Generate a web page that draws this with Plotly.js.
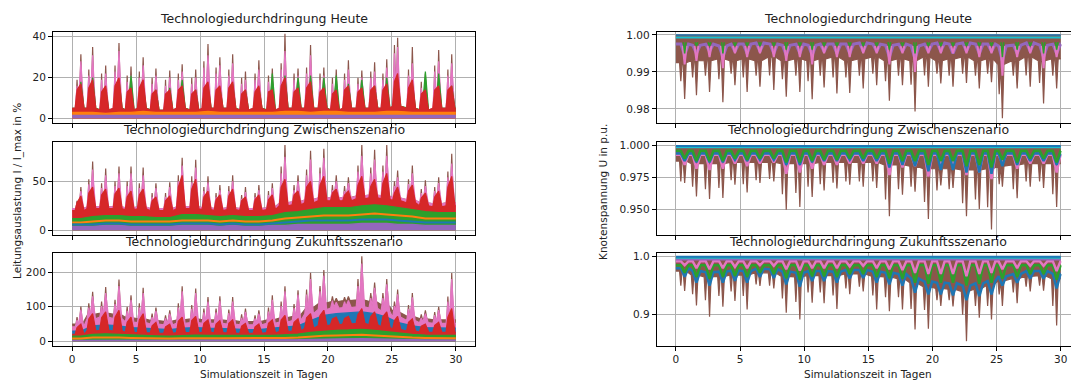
<!DOCTYPE html>
<html><head><meta charset="utf-8">
<script src="https://cdn.plot.ly/plotly-3.0.1.min.js"></script>
<style>html,body{margin:0;padding:0;overflow:hidden;background:#fff}#chart{width:1085px;height:383px}</style>
</head><body><div id="chart"></div><script>
// ---- time of the daily main extreme and of the secondary extreme (days) ----
const spikeDay  = [0.68,1.6,2.62,3.66,4.6,5.55,6.55,7.63,8.6,9.66,10.62,11.55,12.55,13.55,14.6,15.65,16.64,17.66,18.64,19.68,20.65,21.6,22.65,23.65,24.6,25.45,26.6,27.62,28.66,29.68];
const spike2Day = [0.38,1.3,2.3,3.35,4.3,5.25,6.25,7.3,8.3,9.35,10.3,11.25,12.25,13.25,14.3,15.35,16.34,17.35,18.33,19.38,20.35,21.3,22.35,23.35,24.3,25.2,26.3,27.3,28.35,29.38];

// ---- Leitungsauslastung, Heute (%) ----
const aBrown  = [31.5,35,26,37,25.5,30,24.5,23.5,26.5,24,36.5,30,31.5,23,28.5,24.5,41.5,24.5,36,25,24,28.5,23.5,27.5,29,39.5,35,22,33.5,31.5];
const aBrown2 = [19,24,22,26,21,23,20,19,22,20,28,25,24,20,22,21,27,22,25,22,20,22,20,23,22,36,24,18,26,24];
const aPink   = [28,31,22,33,21,26,21,20,23,20,31,26,27,19,24,20,33,21,31,21,20,24,20,23,25,35,27,18,28,27];
const aPink2  = [16,21,19,23,18,20,17,16,19,17,25,22,21,17,19,18,24,19,22,19,17,19,17,20,19,32,21,15,23,21];
const aGreen  = [18,20,14,19,21,16,14,15,19,14,16,15,17,14,15,22,21,20,21,20,21,17,19,16,20,18,17,23,22,16];
const aRed    = [17,19,16,20,15,19,14,14,16,14,18,16,18,14,16,14,20,15,18,15,14,16,15,16,17,22,19,14,16,16];
const aRed2   = [14,15,13,16,13,15,12,12,14,12,15,14,15,12,13,13,16,13,15,13,12,14,13,14,14,18,15,12,14,14];
const aBase   = [5,5,4,5,4,5,4,4,5,4,5,5,5,4,5,4,5,5,5,5,4,5,5,5,5,6,5,4,5,5];
const aOrange = [3,3,2.5,3,3,3.5,3,3,3,3,3.5,3,3,3,3,3,3.5,3.5,3,3.5,3.5,3,3,3,3.5,3.5,3,3,3,3];
const aPurple = [1.5,1.5,1.4,1.6,1.5,1.5,1.4,1.5,1.5,1.4,1.6,1.5,1.5,1.4,1.5,1.5,1.6,1.6,1.5,1.6,1.5,1.5,1.5,1.5,1.6,1.6,1.5,1.4,1.5,1.5];

// ---- Leitungsauslastung, Zwischenszenario (%) ----
const bBrown  = [44,70,63,65,65,64,48,49,74,72,55,46,56,44,46,48,87,56,81,83,56,54,87,82,87,61,66,51,54,78];
const bBrown2 = [30,52,48,50,50,48,38,38,56,55,44,38,45,36,38,40,65,46,62,64,46,45,66,64,66,50,52,42,44,60];
const bPink   = [40,62,56,58,58,56,43,44,66,64,49,41,50,39,41,43,75,50,72,74,50,48,76,72,76,54,58,45,48,68];
const bPink2  = [27,47,43,45,45,43,34,34,50,49,40,34,40,32,34,36,58,41,56,58,41,40,60,58,60,45,47,38,40,54];
const bTopBase= [22,24,24,24,23,24,22,22,24,24,23,22,23,22,22,23,28,29,31,33,33,33,35,36,35,33,31,28,27,28];
const bRed    = [35,44,42,43,40,42,34,35,56,52,40,36,42,34,36,36,52,40,50,55,42,40,55,52,58,44,46,38,40,55];
const bRed2   = [28,38,36,37,34,36,30,30,44,42,34,31,35,30,31,31,44,36,44,46,38,36,46,45,48,38,40,33,34,44];
const bRedBase= [20,22,22,22,21,22,20,20,22,22,21,20,21,20,20,21,25,26,28,30,30,30,32,33,32,30,28,25,24,25];
const bGreen  = [12,14,15,15,14,14,13,13,16,16,15,14,15,14,14,15,18,19,21,23,23,23,25,26,25,23,21,19,18,18];
const bOrange = [8,9,10,10,9,9,9,9,10,10,10,9,10,9,9,10,12,13,14,15,15,15,16,17,16,15,14,12,12,12];
const bBlue   = [6,6,7,7,6,6,6,6,7,7,7,6,7,6,6,7,8,9,10,10,10,10,11,11,11,10,9,8,8,8];
const bPurple = [4,4,5,5,4,4,4,4,5,5,5,4,5,4,4,5,5,6,6,6,6,6,7,7,7,6,6,5,5,5];

// ---- Leitungsauslastung, Zukunftsszenario (%) ----
const cBrown  = [101,143,157,179,133,155,98,90,159,153,128,130,128,95,90,133,159,148,198,206,125,130,246,170,180,150,140,90,100,198];
const cBrown2 = [70,110,115,120,100,110,80,75,110,105,95,95,92,78,75,98,115,108,150,160,130,128,180,140,140,115,105,78,85,130];
const cBrownBase = [50,78,82,78,68,65,60,58,62,65,62,62,60,57,57,62,68,72,95,110,115,118,120,115,105,85,72,65,62,62];
const cPink   = [92,130,140,160,120,140,88,80,145,140,115,118,115,85,80,120,145,135,180,190,113,118,225,155,165,136,127,80,90,180];
const cPink2  = [62,98,102,108,88,98,70,66,98,94,84,84,82,68,66,86,102,96,135,145,118,115,160,125,125,102,94,68,76,115];
const cPinkBase = [42,65,70,66,56,54,50,48,52,54,52,52,50,48,48,52,56,60,80,92,96,98,100,96,88,70,60,54,52,52];
const cBlue   = [30,45,48,45,40,38,36,34,38,40,38,38,36,34,34,38,42,45,60,75,80,82,85,80,70,55,45,40,38,38];
const cRed    = [50,80,85,90,70,80,55,50,70,72,62,60,62,52,50,62,75,65,80,90,70,72,95,85,85,72,65,50,55,95];
const cRed2   = [40,65,68,70,55,62,45,42,58,60,52,50,52,44,42,52,62,55,68,75,65,66,78,72,72,60,55,44,46,70];
const cRedBase= [20,30,32,30,26,25,24,23,25,26,25,25,24,23,23,25,28,30,38,45,48,50,52,48,42,34,30,27,26,26];
const cGreen  = [15,20,22,20,18,17,16,15,17,18,17,17,16,15,15,17,19,21,26,30,32,33,35,32,28,23,20,18,17,17];
const cOrange = [8,11,12,11,10,9,9,8,9,10,9,9,9,8,8,9,10,11,14,16,17,18,19,17,15,12,11,10,9,9];
const cPurple = [3,5,5,5,4,4,4,4,4,4,4,4,4,4,4,4,5,5,6,7,7,7,8,7,6,5,5,4,4,4];

// ---- Knotenspannung, Heute (p.u.) ----
const nominalU = 1.0;
const dBrown  = [0.9827,0.9837,0.9846,0.9818,0.9864,0.9846,0.9860,0.9851,0.9833,0.9846,0.9826,0.9858,0.9842,0.9843,0.9855,0.9864,0.9822,0.9864,0.9793,0.9860,0.9869,0.9860,0.9870,0.9855,0.9872,0.9775,0.9855,0.9860,0.9815,0.9855];
const dBrown2 = [0.9875,0.9885,0.989,0.988,0.9895,0.9885,0.989,0.989,0.988,0.989,0.9875,0.989,0.9885,0.9885,0.989,0.9895,0.9875,0.989,0.9865,0.989,0.9895,0.989,0.9895,0.989,0.9895,0.984,0.989,0.989,0.987,0.989];
const dBrownBase = [0.9925,0.993,0.993,0.9935,0.993,0.9935,0.993,0.994,0.993,0.9935,0.993,0.9935,0.994,0.993,0.9935,0.994,0.993,0.9935,0.993,0.994,0.993,0.9935,0.994,0.993,0.9935,0.992,0.993,0.994,0.993,0.9935];
const dPurple = [0.9945,0.995,0.9955,0.994,0.9955,0.995,0.9955,0.995,0.9945,0.995,0.9945,0.9955,0.995,0.995,0.9955,0.9955,0.994,0.9955,0.9935,0.9955,0.9955,0.995,0.9955,0.995,0.9955,0.993,0.995,0.9955,0.994,0.995];
const dPurpleBase = [0.9975,0.9972,0.9975,0.997,0.9975,0.9975,0.9978,0.9975,0.9972,0.9975,0.9972,0.9975,0.9975,0.9975,0.9978,0.9975,0.9972,0.9975,0.997,0.9975,0.9978,0.9975,0.9978,0.9975,0.9975,0.997,0.9972,0.9978,0.9972,0.9975];
const dPink   = [0.992,0.993,0.994,0.991,0.995,0.994,0.995,0.994,0.993,0.994,0.992,0.995,0.994,0.994,0.995,0.995,0.992,0.995,0.990,0.995,0.995,0.995,0.995,0.994,0.995,0.989,0.994,0.995,0.991,0.994];
const dPinkLevel = 0.997;
const dGreen  = [0.995,0.997,0.997,0.995,0.997,0.997,0.997,0.997,0.996,0.997,0.996,0.997,0.997,0.997,0.997,0.997,0.996,0.997,0.995,0.997,0.997,0.997,0.997,0.997,0.997,0.994,0.996,0.997,0.995,0.996];
const dGreenLevel = 0.998;
const dCyanLevel = 0.9993;
const dBlueLevel = 0.99995;

// ---- Knotenspannung, Zwischenszenario (p.u.) ----
const eBrown  = [0.9708,0.9604,0.9584,0.9591,0.9695,0.9635,0.9708,0.972,0.950,0.9522,0.960,0.965,0.9665,0.9695,0.968,0.967,0.9449,0.9617,0.964,0.9428,0.969,0.967,0.9449,0.9506,0.9345,0.968,0.959,0.968,0.967,0.9522];
const eBrown2 = [0.972,0.968,0.966,0.967,0.973,0.97,0.973,0.974,0.962,0.963,0.968,0.97,0.971,0.972,0.972,0.972,0.958,0.966,0.968,0.956,0.965,0.966,0.955,0.958,0.952,0.97,0.966,0.972,0.972,0.962];
const eBrownBase = [0.988,0.986,0.986,0.986,0.987,0.987,0.987,0.987,0.986,0.986,0.986,0.987,0.987,0.987,0.987,0.987,0.985,0.985,0.984,0.982,0.982,0.982,0.981,0.981,0.982,0.984,0.985,0.986,0.986,0.986];
const ePink   = [0.985,0.982,0.981,0.982,0.986,0.984,0.986,0.987,0.978,0.979,0.982,0.985,0.985,0.986,0.986,0.986,0.977,0.983,0.984,0.976,0.985,0.985,0.977,0.979,0.974,0.986,0.982,0.986,0.986,0.979];
const ePinkLevel = 0.993;
const eBlue   = [0.988,0.987,0.987,0.987,0.989,0.988,0.989,0.989,0.985,0.985,0.987,0.988,0.988,0.989,0.988,0.988,0.983,0.985,0.984,0.980,0.981,0.981,0.979,0.979,0.978,0.984,0.985,0.988,0.988,0.985];
const eBlueLevel = 0.994;
const eGreen  = [0.99,0.988,0.988,0.988,0.99,0.989,0.99,0.99,0.987,0.987,0.988,0.989,0.989,0.99,0.99,0.99,0.986,0.988,0.988,0.985,0.988,0.988,0.984,0.985,0.983,0.989,0.987,0.99,0.99,0.987];
const eGreenLevel = 0.996;
const eCyanLevel = 0.9988;
const eTopLevel = 0.9998;

// ---- Knotenspannung, Zukunftsszenario (p.u.) ----
const fBrown  = [0.9407,0.916,0.8965,0.9138,0.9235,0.909,0.9493,0.945,0.9034,0.8919,0.9207,0.9195,0.910,0.935,0.940,0.909,0.906,0.909,0.8747,0.8757,0.915,0.914,0.8545,0.8948,0.8919,0.915,0.9195,0.940,0.9413,0.8815];
const fBrown2 = [0.95,0.935,0.925,0.932,0.94,0.932,0.952,0.95,0.928,0.922,0.938,0.938,0.933,0.945,0.948,0.933,0.93,0.93,0.91,0.908,0.925,0.925,0.9,0.915,0.915,0.935,0.938,0.948,0.95,0.915];
const fBrownBase = [0.975,0.968,0.965,0.966,0.968,0.968,0.972,0.972,0.966,0.965,0.967,0.967,0.967,0.97,0.97,0.966,0.965,0.962,0.955,0.948,0.945,0.944,0.94,0.944,0.95,0.958,0.962,0.966,0.967,0.962];
const fBlue   = [0.965,0.955,0.95,0.955,0.958,0.955,0.965,0.963,0.952,0.948,0.958,0.958,0.955,0.962,0.963,0.955,0.952,0.95,0.938,0.935,0.935,0.933,0.925,0.932,0.935,0.95,0.955,0.962,0.962,0.945];
const fBlueBase = [0.98,0.975,0.973,0.974,0.976,0.975,0.979,0.978,0.974,0.972,0.975,0.975,0.974,0.977,0.977,0.974,0.972,0.97,0.962,0.957,0.955,0.954,0.95,0.954,0.958,0.966,0.97,0.975,0.975,0.97];
const fGreen  = [0.972,0.965,0.962,0.965,0.967,0.965,0.972,0.97,0.963,0.96,0.966,0.966,0.965,0.97,0.97,0.965,0.963,0.962,0.955,0.953,0.955,0.955,0.95,0.953,0.955,0.962,0.965,0.97,0.97,0.96];
const fGreenLevel = 0.985;
const fPink   = [0.985,0.98,0.978,0.98,0.982,0.98,0.985,0.984,0.978,0.976,0.98,0.98,0.98,0.983,0.984,0.98,0.978,0.977,0.972,0.97,0.97,0.97,0.966,0.97,0.972,0.978,0.98,0.984,0.984,0.975];
const fPinkLevel = 0.992;
const fPurpleLevel = 0.995;
const fCyanLevel = 0.998;
const fTopLevel = 0.9995;

const titles = ['Technologiedurchdringung Heute','Technologiedurchdringung Zwischenszenario','Technologiedurchdringung Zukunftsszenario'];

// ---- styling ----
const COL = {blue:'#1f77b4', orange:'#ff7f0e', green:'#2ca02c', red:'#d62728', purple:'#9467bd', brown:'#8c564b', pink:'#e377c2', cyan:'#17becf'};
const FONT = 'DejaVu Sans, Liberation Sans, sans-serif';
const W = 1085, H = 383;
const traces = [];
function axNames(k){ return {xaxis: k===1?'x':'x'+k, yaxis: k===1?'y':'y'+k}; }
// shape: base -> (secondary extreme) -> base -> main extreme -> base, once per day
function spikePath(vals, base, hw, sec, hw2, joined){
  const b = i => Array.isArray(base) ? base[i] : base;
  const x=[0], y=[b(0)];
  spikeDay.forEach((d,i)=>{
    if (sec){
      const d2 = spike2Day[i];
      x.push(d2-hw2, d2); y.push(b(i), sec[i]);
      if (!joined){ x.push(d2+hw2); y.push(b(i)); }
    }
    if (!(sec && joined)){ x.push(d-hw); y.push(b(i)); }
    x.push(d, d+hw); y.push(vals[i], b(i));
  });
  x.push(30); y.push(b(spikeDay.length-1));
  return {x,y};
}
// separate "V" marks only around each daily extreme
function notchPath(vals, level, hw){
  const x=[], y=[];
  spikeDay.forEach((d,i)=>{ x.push(d-hw, d, d+hw, null); y.push(level, vals[i], level, null); });
  return {x,y};
}
function flatPath(vals){ return {x:[0,...spikeDay,30], y:[vals[0],...vals,vals[vals.length-1]]}; }
function levelPath(v){ return {x:[0,30], y:[v,v]}; }
function areaUp(k, p, c){
  traces.push(Object.assign({type:'scatter',mode:'lines',x:p.x,y:p.y,fill:'tozeroy',fillcolor:c,line:{color:c,width:1.2},hoverinfo:'skip',showlegend:false}, axNames(k)));
}
function areaDown(k, p, c){
  traces.push(Object.assign({type:'scatter',mode:'lines',x:[0,30],y:[nominalU,nominalU],line:{width:0,color:c},hoverinfo:'skip',showlegend:false}, axNames(k)));
  traces.push(Object.assign({type:'scatter',mode:'lines',x:p.x,y:p.y,fill:'tonexty',fillcolor:c,line:{color:c,width:1.2},hoverinfo:'skip',showlegend:false}, axNames(k)));
}
function lineTr(k, p, c, w){
  traces.push(Object.assign({type:'scatter',mode:'lines',x:p.x,y:p.y,connectgaps:false,line:{color:c,width:w},hoverinfo:'skip',showlegend:false}, axNames(k)));
}

// Panel 1
areaUp(1, spikePath(aBrown, aBase, 0.12, aBrown2, 0.08), COL.brown);
areaUp(1, spikePath(aPink, aBase, 0.22, aPink2, 0.14), COL.pink);
areaUp(1, spikePath(aGreen, aBase, 0.25), COL.green);
areaUp(1, spikePath(aRed, aBase, 0.25, aRed2, 0.15, true), COL.red);
areaUp(1, flatPath(aOrange), COL.orange);
areaUp(1, flatPath(aPurple), COL.purple);
// Panel 2
areaUp(2, spikePath(bBrown, bTopBase, 0.12, bBrown2, 0.08), COL.brown);
areaUp(2, spikePath(bPink, bTopBase, 0.22, bPink2, 0.14), COL.pink);
areaUp(2, spikePath(bRed, bRedBase, 0.25, bRed2, 0.15, true), COL.red);
areaUp(2, flatPath(bGreen), COL.green);
areaUp(2, flatPath(bPurple), COL.purple);
lineTr(2, flatPath(bOrange), COL.orange, 2);
lineTr(2, flatPath(bBlue), COL.blue, 2);
// Panel 3
areaUp(3, spikePath(cBrown, cBrownBase, 0.12, cBrown2, 0.08), COL.brown);
areaUp(3, spikePath(cPink, cPinkBase, 0.22, cPink2, 0.14), COL.pink);
areaUp(3, flatPath(cBlue), COL.blue);
areaUp(3, spikePath(cRed, cRedBase, 0.25, cRed2, 0.15, true), COL.red);
areaUp(3, flatPath(cGreen), COL.green);
areaUp(3, flatPath(cPurple), COL.purple);
lineTr(3, flatPath(cOrange), COL.orange, 2);
// Panel 4
areaDown(4, spikePath(dBrown, dBrownBase, 0.12, dBrown2, 0.1), COL.brown);
lineTr(4, spikePath(dPurple, dPurpleBase, 0.3), COL.purple, 3);
lineTr(4, notchPath(dPink, dPinkLevel, 0.15), COL.pink, 2);
lineTr(4, notchPath(dGreen, dGreenLevel, 0.1), COL.green, 1.5);
lineTr(4, levelPath(dCyanLevel), COL.cyan, 2);
lineTr(4, levelPath(dBlueLevel), COL.blue, 1.5);
// Panel 5
areaDown(5, spikePath(eBrown, eBrownBase, 0.12, eBrown2, 0.1), COL.brown);
lineTr(5, spikePath(ePink, ePinkLevel, 0.3), COL.pink, 2.5);
lineTr(5, spikePath(eBlue, eBlueLevel, 0.3), COL.blue, 2.5);
lineTr(5, spikePath(eGreen, eGreenLevel, 0.3), COL.green, 2.5);
lineTr(5, levelPath(eCyanLevel), COL.cyan, 2);
lineTr(5, levelPath(eTopLevel), COL.blue, 2);
// Panel 6
areaDown(6, spikePath(fBrown, fBrownBase, 0.12, fBrown2, 0.1), COL.brown);
lineTr(6, spikePath(fBlue, fBlueBase, 0.3), COL.blue, 2.5);
lineTr(6, spikePath(fGreen, fGreenLevel, 0.3), COL.green, 2.5);
lineTr(6, spikePath(fPink, fPinkLevel, 0.3), COL.pink, 2.5);
lineTr(6, levelPath(fPurpleLevel), COL.purple, 2);
lineTr(6, levelPath(fCyanLevel), COL.cyan, 2);
lineTr(6, levelPath(fTopLevel), COL.blue, 2);

// ---- layout ----
const px = v => v / W, py = v => 1 - v / H;
const colX = [[53, 475], [656.7, 1080]];
const rowY = [[31.5, 123], [142, 234.5], [252.5, 345.5]];
const yRanges = [[-2.2, 42.6], [-4.3, 90], [-12, 257], [0.9762, 1.0009], [0.9306, 1.0029], [0.847, 1.0069]];
const yTicks = [[0,20,40],[0,50],[0,100,200],[0.98,0.99,1.0],[0.95,0.975,1.0],[0.9,1.0]];
const yFmt = ['','','','.2f','.3f','.1f'];
const tickFont = {family:FONT, size:10.5, color:'#222'};
const layout = {width:W, height:H, margin:{l:0,r:0,t:0,b:0}, paper_bgcolor:'#fff', plot_bgcolor:'#fff', showlegend:false, annotations:[]};
for (let k=1;k<=6;k++){
  const col = k<=3?0:1, row = (k-1)%3;
  const common = {showline:true, mirror:true, linecolor:'#000', linewidth:1, showgrid:true, gridcolor:'#b0b0b0', gridwidth:1, ticks:'outside', ticklen:4, tickwidth:1, tickcolor:'#000', zeroline:false, tickfont:tickFont, fixedrange:true};
  layout[k===1?'xaxis':'xaxis'+k] = Object.assign({}, common, {domain:[px(colX[col][0]), px(colX[col][1])], range:[-1.5,31.5], tickmode:'array', tickvals:[0,5,10,15,20,25,30], showticklabels: row===2, anchor: k===1?'y':'y'+k});
  layout[k===1?'yaxis':'yaxis'+k] = Object.assign({}, common, {domain:[py(rowY[row][1]), py(rowY[row][0])], range:yRanges[k-1], tickmode:'array', tickvals:yTicks[k-1], tickformat:yFmt[k-1], anchor: k===1?'x':'x'+k});
  const cx = px((colX[col][0]+colX[col][1])/2);
  const titleY = [18, 130, 241][row];
  layout.annotations.push({text:titles[row], xref:'paper', yref:'paper', x:cx, y:py(titleY), xanchor:'center', yanchor:'middle', showarrow:false, font:{family:FONT, size:12.5, color:'#222'}});
  if (row===2) layout.annotations.push({text:'Simulationszeit in Tagen', xref:'paper', yref:'paper', x:cx, y:py(374), xanchor:'center', yanchor:'middle', showarrow:false, font:{family:FONT, size:10.5, color:'#222'}});
}
layout.annotations.push({text:'Leitungsauslastung I / I_max in %', xref:'paper', yref:'paper', x:px(18), y:py(191), xanchor:'center', yanchor:'middle', textangle:-90, showarrow:false, font:{family:FONT, size:10.5, color:'#222'}});
layout.annotations.push({text:'Knotenspannung U in p.u.', xref:'paper', yref:'paper', x:px(603), y:py(192), xanchor:'center', yanchor:'middle', textangle:-90, showarrow:false, font:{family:FONT, size:10.5, color:'#222'}});

Plotly.newPlot('chart', traces, layout, {displayModeBar:false, staticPlot:true});
</script></body></html>
